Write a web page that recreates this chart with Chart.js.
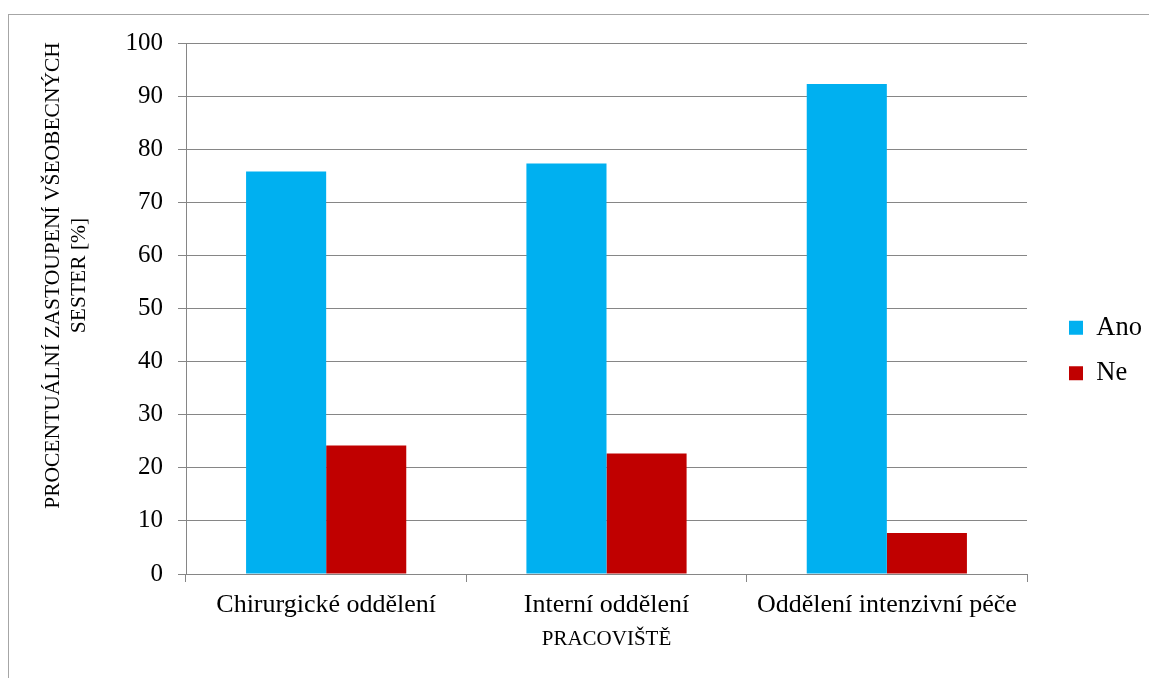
<!DOCTYPE html>
<html>
<head>
<meta charset="utf-8">
<script src="https://cdn.jsdelivr.net/npm/chart.js@4/dist/chart.umd.min.js"></script>
<style>
  html, body { margin: 0; padding: 0; background: #fff; overflow: hidden; }
  #ramecek { position: absolute; left: 8px; top: 14px; width: 1300px; height: 800px; border: 1px solid #a6a6a6; }
  #obal { position: absolute; left: 0; top: 0; width: 1149px; height: 678px; }
</style>
</head>
<body>
<div id="ramecek"></div>
<div id="obal"><canvas id="graf"></canvas></div>
<script>
// Data
const pracoviste = ["Chirurgické oddělení", "Interní oddělení", "Oddělení intenzivní péče"];
const hodnotyAno = [75.8, 77.3, 92.3];
const hodnotyNe = [24.2, 22.7, 7.7];
const popiskyOsyY = [0, 10, 20, 30, 40, 50, 60, 70, 80, 90, 100];
const titulekOsyY = ["PROCENTUÁLNÍ ZASTOUPENÍ VŠEOBECNÝCH", "SESTER [%]"];

const SERIF = "'Liberation Serif', 'Times New Roman', serif";
const sedaMrizka = "#868686";

// legenda s pevnou sirkou
const pevnaLegenda = {
  id: "pevnaLegenda",
  afterInit(chart) {
    const lg = chart.legend;
    const puvodniFit = lg.fit;
    lg.fit = function () {
      puvodniFit.call(this);
      this.width = 99;
    };
  },
};

// titulek osy Y (v originale neni vycentrovany na osu)
const titulekY = {
  id: "titulekY",
  afterDraw(chart) {
    const { ctx, chartArea } = chart;
    const stred = (chartArea.top + chartArea.bottom) / 2 - 33;
    ctx.save();
    ctx.font = "21.5px " + SERIF;
    ctx.fillStyle = "#000";
    ctx.textAlign = "center";
    ctx.textBaseline = "middle";
    ctx.translate(53, stred);
    ctx.rotate(-Math.PI / 2);
    titulekOsyY.forEach((t, i) => ctx.fillText(t, 0, i * 26.5));
    ctx.restore();
  },
};

const ctx = document.getElementById("graf").getContext("2d");
new Chart(ctx, {
  type: "bar",
  data: {
    labels: pracoviste,
    datasets: [
      { label: "Ano", data: hodnotyAno, backgroundColor: "#00B0F0" },
      { label: "Ne", data: hodnotyNe, backgroundColor: "#C00000" },
    ],
  },
  options: {
    responsive: true,
    maintainAspectRatio: false,
    animation: false,
    events: [],
    categoryPercentage: 160 / 280,
    barPercentage: 1,
    layout: { padding: { left: 0, top: 43, right: 0, bottom: 20 } },
    plugins: {
      tooltip: { enabled: false },
      legend: {
        position: "right",
        labels: {
          boxWidth: 14,
          boxHeight: 14,
          padding: 19,
          color: "#000",
          font: { family: SERIF, size: 26.5 },
        },
      },
    },
    scales: {
      x: {
        grid: {
          offset: true,
          drawOnChartArea: false,
          drawTicks: true,
          tickLength: 8,
          color: sedaMrizka,
        },
        border: { color: sedaMrizka },
        ticks: { color: "#000", padding: 8, font: { family: SERIF, size: 26 } },
        title: {
          display: true,
          text: "PRACOVIŠTĚ",
          color: "#000",
          font: { family: SERIF, size: 21 },
          padding: { top: 0, bottom: 6 },
        },
        afterFit: (s) => { s.height = 84; },
      },
      y: {
        min: 0,
        max: 100,
        afterBuildTicks: (s) => { s.ticks = popiskyOsyY.map((v) => ({ value: v })); },
        grid: { color: sedaMrizka, tickLength: 8 },
        border: { color: sedaMrizka },
        ticks: { color: "#000", padding: 15, font: { family: SERIF, size: 25 } },
        afterFit: (s) => { s.width = 186; },
      },
      y2: {
        position: "right",
        grid: { display: false },
        border: { display: false },
        ticks: { display: false },
        afterFit: (s) => { s.width = 23; },
      },
    },
  },
  plugins: [pevnaLegenda, titulekY],
});
</script>
</body>
</html>
